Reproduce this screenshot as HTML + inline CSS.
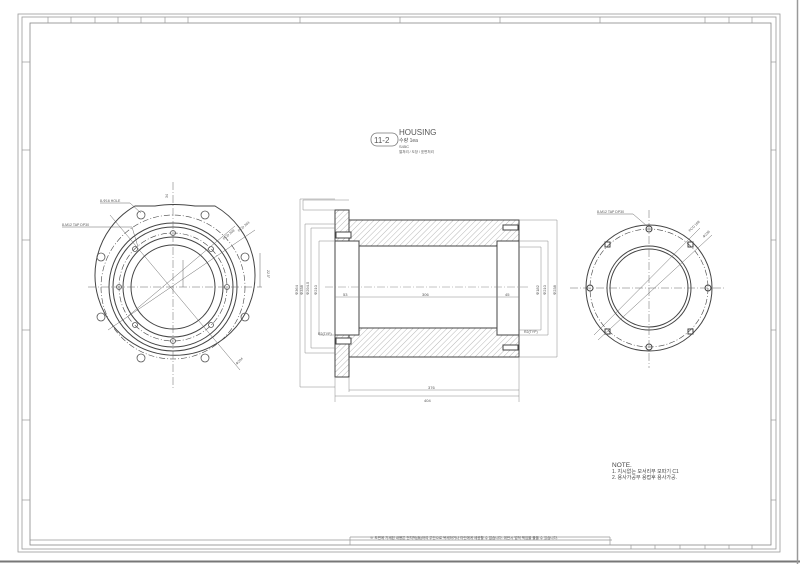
<!DOCTYPE html>
<html><head><meta charset="utf-8"><style>
html,body{margin:0;padding:0;background:#fff}
svg{display:block}
text{font-family:"Liberation Sans","Noto Sans CJK KR",sans-serif;fill:#555}
</style></head><body>
<svg width="800" height="564" viewBox="0 0 800 564" xmlns="http://www.w3.org/2000/svg">
<defs>
<pattern id="h" width="4" height="4" patternUnits="userSpaceOnUse" patternTransform="rotate(45)">
<line x1="0" y1="0" x2="0" y2="4" stroke="#999" stroke-width="0.7"/>
</pattern>
</defs>
<rect width="800" height="564" fill="#fff"/>
<line x1="0" y1="561.5" x2="800" y2="561.5" stroke="#777" stroke-width="2"/>
<line x1="797.5" y1="0" x2="797.5" y2="564" stroke="#999" stroke-width="1.5"/>
<g fill="none" stroke="#999" stroke-width="0.8">
<rect x="18" y="14" width="762" height="538"/>
<rect x="22" y="17" width="754" height="532"/>
<rect x="30" y="23" width="741" height="522" stroke="#888"/>
</g>
<g stroke="#999" stroke-width="0.7">
<line x1="48" y1="17" x2="48" y2="23"/><line x1="71" y1="17" x2="71" y2="23"/><line x1="95" y1="17" x2="95" y2="23"/><line x1="118" y1="17" x2="118" y2="23"/><line x1="141" y1="17" x2="141" y2="23"/><line x1="165" y1="17" x2="165" y2="23"/><line x1="188" y1="17" x2="188" y2="23"/>
<line x1="300" y1="17" x2="300" y2="23"/><line x1="400" y1="17" x2="400" y2="23"/><line x1="500" y1="17" x2="500" y2="23"/><line x1="600" y1="17" x2="600" y2="23"/><line x1="705" y1="17" x2="705" y2="23"/><line x1="729" y1="17" x2="729" y2="23"/><line x1="752" y1="17" x2="752" y2="23"/>
<line x1="22" y1="62" x2="30" y2="62"/><line x1="22" y1="150" x2="30" y2="150"/><line x1="22" y1="240" x2="30" y2="240"/><line x1="22" y1="330" x2="30" y2="330"/><line x1="22" y1="420" x2="30" y2="420"/><line x1="22" y1="500" x2="30" y2="500"/>
<line x1="771" y1="62" x2="776" y2="62"/><line x1="771" y1="150" x2="776" y2="150"/><line x1="771" y1="240" x2="776" y2="240"/><line x1="771" y1="330" x2="776" y2="330"/><line x1="771" y1="420" x2="776" y2="420"/><line x1="771" y1="500" x2="776" y2="500"/>
<line x1="631" y1="545" x2="631" y2="549"/><line x1="655" y1="545" x2="655" y2="549"/><line x1="680" y1="545" x2="680" y2="549"/><line x1="705" y1="545" x2="705" y2="549"/><line x1="729" y1="545" x2="729" y2="549"/><line x1="752" y1="545" x2="752" y2="549"/>
</g>
<g stroke="#999" stroke-width="0.7" fill="none">
<line x1="30" y1="540" x2="612" y2="540"/>
<line x1="350" y1="537" x2="610" y2="537"/>
<line x1="350" y1="537" x2="350" y2="545"/>
<line x1="610" y1="537" x2="610" y2="545"/>
</g>
<text x="370" y="539" font-size="3.5">※ 도면에 기재된 내용은 전지적(無)하여 무단으로 복제하거나 타인에게 제공할 수 없습니다. 위반시 법적 책임을 물을 수 있습니다.</text>
<text x="612" y="467" font-size="6.5" style="fill:#444">NOTE.</text>
<text x="612" y="473" font-size="5" style="fill:#444">1. 지시없는 모서리부 모따기 C1</text>
<text x="612" y="479" font-size="5" style="fill:#444">2. 용사가공부 용접후 용사가공.</text>
<rect x="371" y="133" width="27" height="13" rx="6" fill="none" stroke="#777" stroke-width="0.8"/>
<text x="374" y="143" font-size="8" style="fill:#555">11-2</text>
<text x="399" y="135" font-size="8" style="fill:#555">HOUSING</text>
<text x="399" y="142" font-size="5">수량 1ea</text>
<text x="399" y="148" font-size="4">S45C</text>
<text x="399" y="153" font-size="3.5">열처리 / 도장 / 표면처리</text>

<g fill="none" stroke="#444" stroke-width="1">
<path d="M135 206 L155 206 Q173 203 195 206 L215 206 A80 80 0 1 1 135 206 Z"/>
<circle cx="173" cy="287" r="64"/>
<circle cx="173" cy="287" r="60"/>
<circle cx="173" cy="287" r="50"/>
<circle cx="173" cy="287" r="42"/>
<circle cx="173" cy="287" r="72" stroke-dasharray="6 2 1 2" stroke-width="0.6"/>
<circle cx="173" cy="287" r="54" stroke-dasharray="6 2 1 2" stroke-width="0.6"/>
</g>
<g fill="none" stroke="#555" stroke-width="0.8">
<circle cx="141" cy="215" r="4"/><circle cx="205" cy="215" r="4"/>
<circle cx="101" cy="257" r="4"/><circle cx="245" cy="257" r="4"/>
<circle cx="101" cy="317" r="4"/><circle cx="245" cy="317" r="4"/>
<circle cx="141" cy="358" r="4"/><circle cx="205" cy="358" r="4"/>
<circle cx="173" cy="233" r="2.5"/><circle cx="173" cy="341" r="2.5"/>
<circle cx="119" cy="287" r="2.5"/><circle cx="227" cy="287" r="2.5"/>
<circle cx="135" cy="249" r="2.5"/><circle cx="211" cy="249" r="2.5"/>
<circle cx="135" cy="325" r="2.5"/><circle cx="211" cy="325" r="2.5"/>
</g>
<g stroke="#666" stroke-width="0.5">
<line x1="173" y1="182" x2="173" y2="390" stroke-dasharray="8 2 1 2"/>
<line x1="88" y1="287" x2="262" y2="287" stroke-dasharray="8 2 1 2"/>
<line x1="110" y1="215" x2="240" y2="370"/>
<line x1="108" y1="330" x2="255" y2="230"/>
<line x1="127" y1="317" x2="235" y2="226"/>
<line x1="62" y1="227" x2="132" y2="227"/><line x1="132" y1="227" x2="138" y2="247"/>
<line x1="100" y1="203" x2="130" y2="203"/><line x1="130" y1="203" x2="141" y2="213"/>
<line x1="183" y1="260" x2="183" y2="287"/>
<line x1="260" y1="253" x2="260" y2="287"/>
</g>
<text x="100" y="202" font-size="3.5">8-Φ16 HOLE</text>
<text x="62" y="226" font-size="3.5">8-M12 TAP DP30</text>
<text x="0" y="0" font-size="3.5" transform="translate(224 240) rotate(-40)">PCD 208</text>
<text x="0" y="0" font-size="3.5" transform="translate(239 232) rotate(-40)">PCD 264</text>
<text x="0" y="0" font-size="3.5" transform="translate(237 365) rotate(-45)">Φ294</text>
<text x="0" y="0" font-size="3.5" transform="translate(168 198) rotate(-90)">34</text>
<text x="0" y="0" font-size="3.5" transform="translate(267 270) rotate(90)">22.5°</text>

<g stroke="#444" stroke-width="1">
<rect x="349" y="220" width="170" height="26" fill="url(#h)"/>
<rect x="349" y="328" width="170" height="29" fill="url(#h)"/>
<rect x="335" y="210" width="14" height="31" fill="url(#h)"/>
<rect x="335" y="335" width="14" height="42" fill="url(#h)"/>
</g>
<g fill="#fff" stroke="#444" stroke-width="1">
<rect x="335" y="241" width="24" height="94"/>
<rect x="497" y="241" width="22" height="94"/>
<rect x="336" y="232" width="15" height="6"/>
<rect x="336" y="338" width="15" height="6"/>
<rect x="503" y="225" width="15" height="5"/>
<rect x="503" y="345" width="15" height="5"/>
</g>
<line x1="359" y1="246" x2="497" y2="246" stroke="#444"/>
<line x1="359" y1="328" x2="497" y2="328" stroke="#444"/>
<g stroke="#888" stroke-width="0.5" fill="none">
<line x1="325" y1="287" x2="530" y2="287" stroke-dasharray="8 2 1 2"/>
<line x1="335" y1="297" x2="519" y2="297"/>
<polyline points="335,199 300,199 300,387 335,387"/>
<polyline points="335,224 305,224 305,353 335,353"/>
<polyline points="335,228 311,228 311,348 335,348"/>
<polyline points="335,241 319,241 319,335 335,335"/>
<polyline points="519,220 557,220 557,357 519,357"/>
<polyline points="519,241 548,241 548,335 519,335"/>
<polyline points="519,247 541,247 541,330 519,330"/>
<polyline points="349,200 303,200 303,210 335,210"/>
<line x1="335" y1="377" x2="335" y2="402"/>
<line x1="519" y1="357" x2="519" y2="402"/>
<line x1="349" y1="377" x2="349" y2="392"/>
<line x1="335" y1="396" x2="519" y2="396"/>
<line x1="349" y1="390" x2="519" y2="390"/>
</g>
<g font-size="4">
<text x="343" y="296">53</text><text x="422" y="296">306</text><text x="505" y="296">45</text>
<text x="428" y="389">376</text><text x="424" y="402">404</text>
<text x="318" y="335" font-size="3.5">R2(TYP)</text><text x="524" y="333" font-size="3.5">R2(TYP)</text>
<text x="0" y="0" transform="translate(298 295) rotate(-90)">Φ364</text>
<text x="0" y="0" transform="translate(303 295) rotate(-90)">Φ338</text>
<text x="0" y="0" transform="translate(309 295) rotate(-90)">Φ294.5</text>
<text x="0" y="0" transform="translate(317 295) rotate(-90)">Φ210</text>
<text x="0" y="0" transform="translate(539 295) rotate(-90)">Φ182</text>
<text x="0" y="0" transform="translate(546 295) rotate(-90)">Φ210</text>
<text x="0" y="0" transform="translate(556 295) rotate(-90)">Φ238</text>
</g>

<g fill="none" stroke="#444" stroke-width="1">
<circle cx="649" cy="288" r="63"/>
<circle cx="649" cy="288" r="42"/>
<circle cx="649" cy="288" r="39"/>
<circle cx="649" cy="288" r="59" stroke-dasharray="6 2 1 2" stroke-width="0.6"/>
<circle cx="649" cy="229" r="3"/><circle cx="649" cy="347" r="3"/>
<circle cx="590" cy="288" r="3"/><circle cx="708" cy="288" r="3"/>
<rect x="605" y="242" width="5" height="5"/><rect x="688" y="242" width="5" height="5"/>
<rect x="605" y="329" width="5" height="5"/><rect x="688" y="329" width="5" height="5"/>
</g>
<g stroke="#666" stroke-width="0.5">
<line x1="649" y1="210" x2="649" y2="368" stroke-dasharray="8 2 1 2"/>
<line x1="570" y1="288" x2="725" y2="288" stroke-dasharray="8 2 1 2"/>
<line x1="594" y1="335" x2="700" y2="228"/>
<line x1="598" y1="340" x2="712" y2="235"/>
<line x1="597" y1="214" x2="633" y2="214"/><line x1="633" y1="214" x2="647" y2="226"/>
</g>
<text x="597" y="213" font-size="3.5">8-M12 TAP DP30</text>
<text x="0" y="0" font-size="3.5" transform="translate(690 232) rotate(-45)">PCD 188</text>
<text x="0" y="0" font-size="3.5" transform="translate(704 238) rotate(-45)">Φ236</text>
</svg>
</body></html>
